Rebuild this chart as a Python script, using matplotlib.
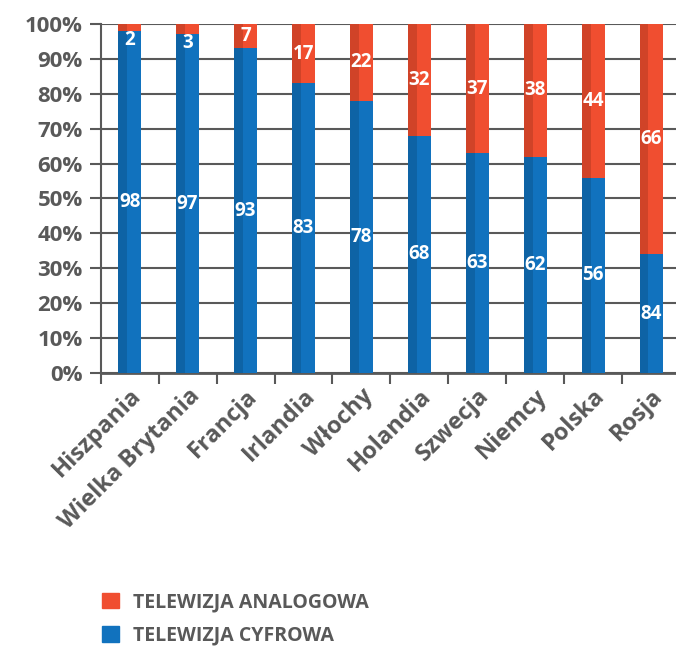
import matplotlib
matplotlib.use("Agg")
import matplotlib.pyplot as plt
from matplotlib.patches import Patch

# --- Data ---
countries = ["Hiszpania", "Wielka Brytania", "Francja", "Irlandia", "Włochy",
             "Holandia", "Szwecja", "Niemcy", "Polska", "Rosja"]
digital = [98, 97, 93, 83, 78, 68, 63, 62, 56, 34]
analog = [2, 3, 7, 17, 22, 32, 37, 38, 44, 66]
# printed labels (the source chart prints 84 on the Rosja blue bar)
digital_labels = ["98", "97", "93", "83", "78", "68", "63", "62", "56", "84"]
analog_labels = ["2", "3", "7", "17", "22", "32", "37", "38", "44", "66"]

BLUE = "#1172be"
BLUE_DARK = "#0e63a5"
RED = "#f04e30"
RED_DARK = "#d04328"
GREY = "#595959"

plt.rcParams["font.family"] = ["Open Sans", "DejaVu Sans"]
plt.rcParams["font.weight"] = "bold"

fig = plt.figure(figsize=(6.76, 6.47), dpi=100)
ax = fig.add_axes([0.149, 0.4235, 0.857, 0.5395])

x = list(range(len(countries)))
width = 0.4
dark = 0.155

# main bars
ax.bar(x, digital, width=width, color=BLUE, zorder=3)
ax.bar(x, analog, width=width, bottom=digital, color=RED, zorder=3)
# darker strip on the left side of each bar
left = [p - width / 2 for p in x]
ax.bar(left, digital, width=dark, align="edge", color=BLUE_DARK, zorder=3)
ax.bar(left, analog, width=dark, align="edge", bottom=digital, color=RED_DARK, zorder=3)

for i in x:
    ax.text(i, digital[i] / 2, digital_labels[i], ha="center", va="center",
            color="white", fontsize=13.5, fontweight="bold", zorder=4)
    ya = digital[i] + analog[i] / 2
    if analog[i] < 5:
        ya = digital[i] - 2.5
    ax.text(i, ya, analog_labels[i], ha="center", va="center",
            color="white", fontsize=13.5, fontweight="bold", zorder=4)

ax.set_xlim(-0.5, len(countries) - 0.5)
ax.set_ylim(0, 100)
ax.set_yticks(range(0, 101, 10))
ax.set_yticklabels([f"{v}%" for v in range(0, 101, 10)])
ax.yaxis.grid(True, color=GREY, linewidth=1.5, zorder=0)

# category labels at bar centres, tick marks at category boundaries
ax.set_xticks(x)
ax.set_xticklabels(countries, rotation=45, ha="right", rotation_mode="anchor")
ax.set_xticks([p - 0.5 for p in x] + [len(x) - 0.5], minor=True)
ax.tick_params(axis="x", which="major", length=0, pad=8, labelsize=17, labelcolor=GREY)
ax.tick_params(axis="x", which="minor", length=8, width=1.5, color=GREY, direction="out")
ax.tick_params(axis="y", length=8, width=1.5, color=GREY, labelsize=16, labelcolor=GREY, pad=5)

for side in ["top", "right"]:
    ax.spines[side].set_visible(False)
ax.spines["left"].set_color(GREY)
ax.spines["left"].set_linewidth(1.5)
ax.spines["bottom"].set_color(GREY)
ax.spines["bottom"].set_linewidth(2)

handles = [Patch(color=RED), Patch(color=BLUE)]
leg = fig.legend(handles, ["TELEWIZJA ANALOGOWA", "TELEWIZJA CYFROWA"],
                 loc="upper left", bbox_to_anchor=(0.125, 0.112),
                 frameon=False, handlelength=0.85, handleheight=0.85,
                 labelspacing=0.7, handletextpad=0.75,
                 prop={"size": 14, "weight": "bold"})
for t in leg.get_texts():
    t.set_color(GREY)

fig.savefig("out.png", dpi=100)
